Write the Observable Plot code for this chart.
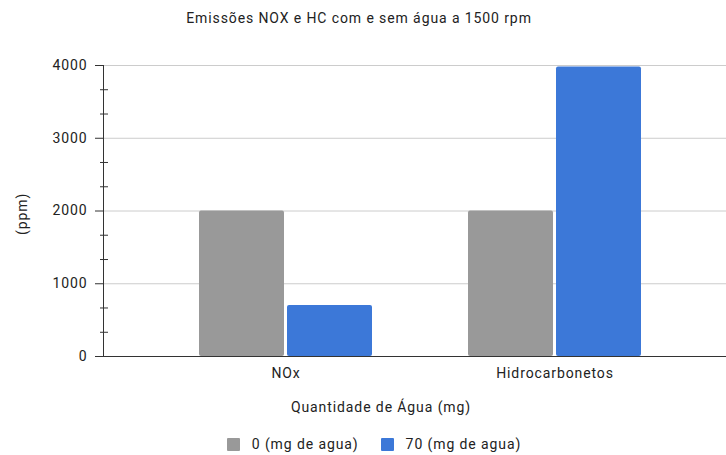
<!DOCTYPE html>
<html>
<head>
<meta charset="utf-8">
<script src="https://cdn.jsdelivr.net/npm/d3@7"></script>
<script src="https://cdn.jsdelivr.net/npm/@observablehq/plot@0.6"></script>
<style>
  body { margin: 0; background: #fff; font-family: Roboto, "Liberation Sans", sans-serif; color: #222; letter-spacing: 0.9px; }
  #wrap { position: relative; width: 726px; height: 455px; overflow: hidden; }
  #title { position: absolute; top: 10px; left: 0; width: 718px; text-align: center; font-size: 14px; color: #222; }
  #chart { position: absolute; top: 40px; left: 0; }
  #legend { position: absolute; top: 436px; left: 0; width: 748px; display: flex; justify-content: center; gap: 22px; font-size: 14px; color: #222; }
  .item { display: flex; align-items: center; gap: 12px; }
  .sw { width: 13px; height: 13px; border-radius: 1px; }
</style>
</head>
<body>
<div id="wrap">
  <div id="title"></div>
  <div id="chart"></div>
  <div id="legend"></div>
</div>
<script>
const title = "Emissões NOX e HC com e sem água a 1500 rpm";
const categories = ["NOx", "Hidrocarbonetos"];
const seriesNames = ["0 (mg de agua)", "70 (mg de agua)"];
const seriesColors = ["#999999", "#3c78d8"];
const values0 = [2000, 2000];
const values70 = [700, 3980];
const yTicks = [0, 1000, 2000, 3000, 4000];
const yMinorTicks = [333, 667, 1333, 1667, 2333, 2667, 3333, 3667];
const xLabel = "Quantidade de Água (mg)";
const yLabel = "(ppm)";

const data0 = categories.map((c, i) => ({category: c, value: values0[i]}));
const data70 = categories.map((c, i) => ({category: c, value: values70[i]}));

document.getElementById("title").textContent = title;

const chart = Plot.plot({
  width: 726,
  height: 385,
  marginLeft: 103,
  marginRight: 0,
  marginTop: 25,
  marginBottom: 69,
  style: {fontFamily: "Roboto, 'Liberation Sans', sans-serif", fontSize: "14px", color: "#222", background: "#fff", letterSpacing: "0.9px"},
  x: {domain: categories, paddingInner: 0.357, paddingOuter: 0.336, align: 0.53, label: null},
  y: {domain: [0, 4000], label: null},
  marks: [
    Plot.gridY(yTicks, {stroke: "#cccccc", strokeOpacity: 1}),
    Plot.barY(data0, {x: "category", y: "value", fill: seriesColors[0], insetRight: 88, rx: 2}),
    Plot.barY(data70, {x: "category", y: "value", fill: seriesColors[1], insetLeft: 88, rx: 2}),
    Plot.ruleY([0], {stroke: "#333"}),
    Plot.frame({anchor: "left", stroke: "#333"}),
    Plot.axisY({ticks: yTicks, tickFormat: d => String(d), tickSize: 8, tickPadding: 8, label: null, stroke: "#333", strokeOpacity: 1, fill: "#222"}),
    Plot.axisY({ticks: yMinorTicks, tickSize: 8, text: null, dx: 5, label: null, stroke: "#333", strokeOpacity: 1}),
    Plot.axisX({tickSize: 0, tickPadding: 12, label: null, fill: "#222"}),
    Plot.text([xLabel], {frameAnchor: "bottom", dy: 55, dx: -34, fill: "#222"}),
    Plot.text([yLabel], {frameAnchor: "left", rotate: -90, dx: -81, dy: 24, fill: "#222"})
  ]
});
document.getElementById("chart").appendChild(chart);

const legend = document.getElementById("legend");
seriesNames.forEach((name, i) => {
  const item = document.createElement("div");
  item.className = "item";
  const sw = document.createElement("div");
  sw.className = "sw";
  sw.style.background = seriesColors[i];
  const label = document.createElement("span");
  label.textContent = name;
  item.appendChild(sw);
  item.appendChild(label);
  legend.appendChild(item);
});
</script>
</body>
</html>
